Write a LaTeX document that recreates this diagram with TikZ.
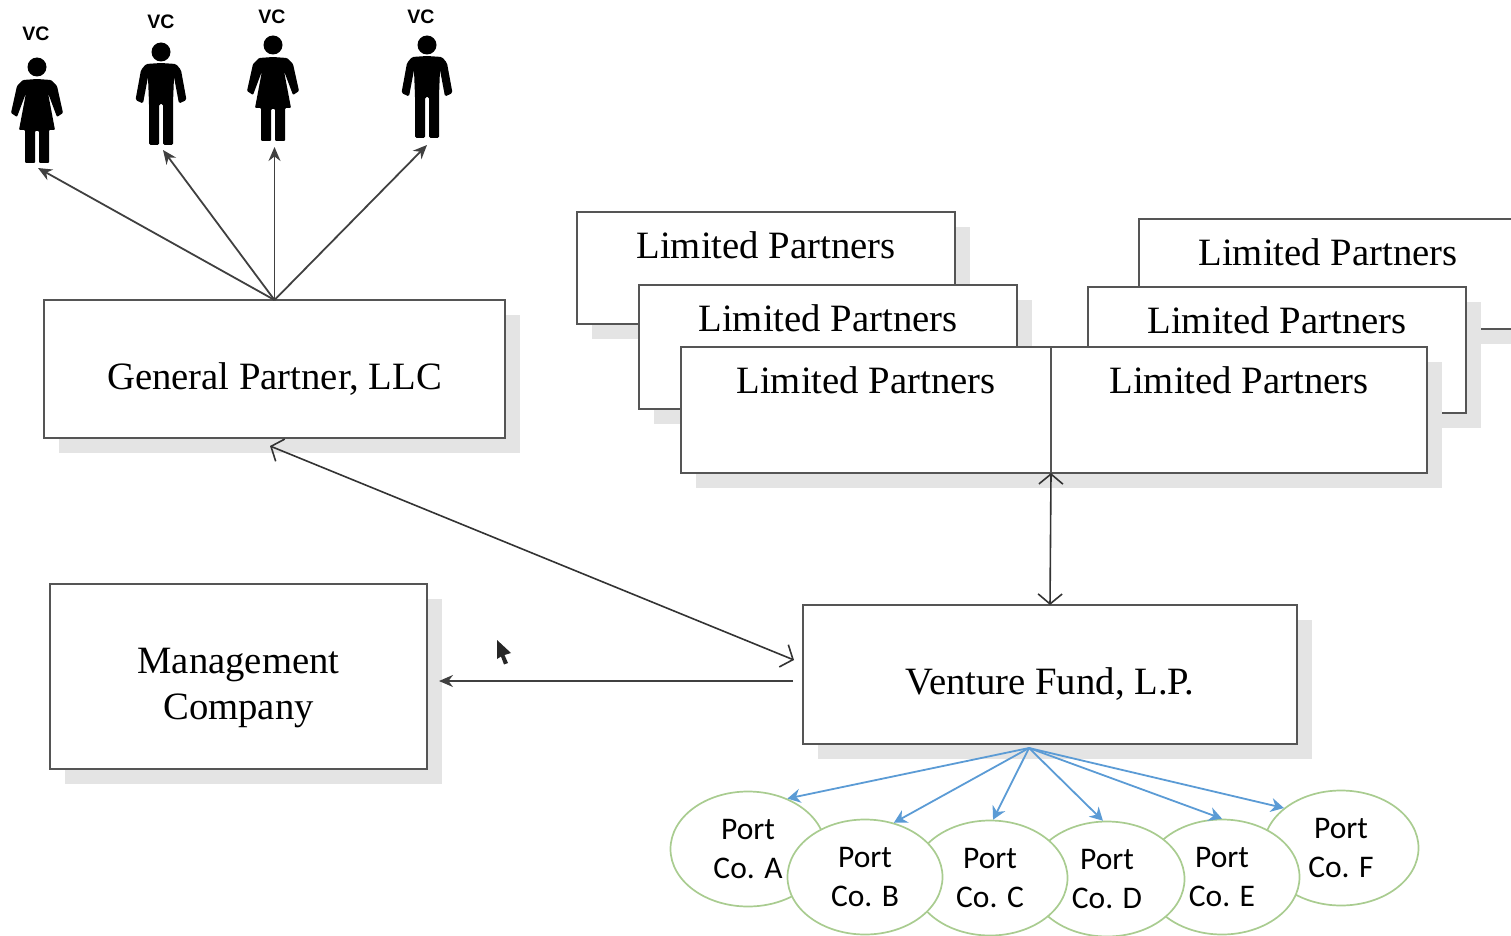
\documentclass[tikz,border=0pt]{standalone}
\usepackage{fontspec}
\setmainfont{Liberation Serif}
\newfontfamily\portfont{Carlito}
\newfontfamily\vcfont{Liberation Sans}
\usetikzlibrary{shapes, arrows.meta, positioning, shadows}

\definecolor{edgegray}{HTML}{555555}
\definecolor{shadowgray}{HTML}{E4E4E4}
\definecolor{portgreen}{HTML}{A9CC90}
\definecolor{fanblue}{HTML}{5B9BD5}

\begin{document}
\begin{tikzpicture}[
        x=1pt, y=-1pt,
        box/.style={draw=edgegray, fill=white, rectangle, line width=1.7pt, outer sep=0pt, align=center,
            font=\fontsize{38.7}{46}\selectfont,
            drop shadow={shadow xshift=15pt, shadow yshift=-15pt, opacity=1, fill=shadowgray}},
        mainbox/.style={box, text height=#1, text depth=8pt},
        lpbox/.style n args={2}{box, anchor=north west, inner ysep=0pt, text height=46.5pt, text depth=#2, minimum width=#1},
        port/.style={draw=portgreen, fill=white, ellipse, line width=1.7pt, inner sep=0pt, align=center,
            minimum width=155pt, minimum height=115pt, font=\portfont\fontsize{31.5}{39}\selectfont},
        vc/.style={font=\vcfont\bfseries\fontsize{19.5}{20}\selectfont, inner sep=0pt},
        arrow/.style={-{Stealth[length=14pt, width=12pt]}, line width=1.8pt, draw=black!75},
        biarrow/.style={{Straight Barb[length=10pt, width=24pt]}-{Straight Barb[length=10pt, width=24pt]}, line width=1.6pt, draw=black!80},
        fan/.style={-{Stealth[length=13pt, width=14pt]}, line width=1.8pt, draw=fanblue},
        man/.pic={
            \fill (0,0) circle (9.5pt);
            \fill[rounded corners=1.5pt] (0,11) -- (15,12) -- (20,18) -- (25.5,48) -- (18,51.5) -- (13,25) -- (12,51) -- (12,93)
                -- (2,93) -- (2,52) -- (-2,52) -- (-2,93) -- (-12,93) -- (-12,51) -- (-13,25) -- (-18,51.5) -- (-25.5,48) -- (-20,18) -- (-15,12) -- cycle;
        },
        woman/.pic={
            \fill (0,0) circle (9.5pt);
            \fill[rounded corners=1pt] (0,12) -- (14,13) -- (20,19) -- (26,46) -- (20,50) -- (11,26) -- (18,63) -- (12,63) -- (12,96)
                -- (2,96) -- (2,64) -- (-2,64) -- (-2,96) -- (-12,96) -- (-12,63) -- (-18,63) -- (-11,26) -- (-20,50) -- (-26,46) -- (-20,19) -- (-14,13) -- cycle;
        }
    ]
        \useasboundingbox (0,0) rectangle (1511,936);

        % VCs
        \pic at (37,67) {woman};
        \pic at (161,52) {man};
        \pic at (273,45) {woman};
        \pic at (427,45) {man};
        \node[vc] (vca) at (36,34) {VC};
        \node[vc] (vcb) at (161,22) {VC};
        \node[vc] (vcc) at (272,17) {VC};
        \node[vc] (vcd) at (421,17) {VC};
        \coordinate (feeta) at (38,168);
        \coordinate (feetb) at (163,150);
        \coordinate (feetc) at (274.5,147);
        \coordinate (feetd) at (427,145);

        % Main boxes
        \node[mainbox=48.4pt, minimum width=461pt, minimum height=138pt] (gp) at (274.5,369) {General Partner, LLC};
        \node[mainbox=94.4pt, minimum width=377pt, minimum height=185pt] (mgmt) at (238.5,676.5) {Management\\Company};
        \node[mainbox=48.4pt, minimum width=494pt, minimum height=139pt] (fund) at (1050,674.5) {Venture Fund, L.P.};

        % Limited partners
        \node[lpbox={378pt}{65.5pt}] (lpa) at (577,212) {Limited Partners};
        \node[lpbox={378pt}{77.5pt}, below right=73pt and 62pt of lpa.north west] (lpb) {Limited Partners};
        \node[lpbox={378pt}{63.5pt}] (lpd) at (1139,219) {Limited Partners};
        \node[lpbox={378pt}{79.5pt}] (lpe) at (1088,287) {Limited Partners};
        \node[lpbox={370pt}{79.5pt}] (lpc) at (681,347) {Limited Partners};
        \node[lpbox={376pt}{79.5pt}, right=0pt of lpc.north east, anchor=north west] (lpf) {Limited Partners};

        % Portfolio companies
        \node[port] (porta) at (748,849) {Port\\Co. A};
        \node[port] (portf) at (1341,848) {Port\\Co. F};
        \node[port] (porte) at (1222,877) {Port\\Co. E};
        \node[port] (portd) at (1107,879) {Port\\Co. D};
        \node[port] (portc) at (990,878) {Port\\Co. C};
        \node[port] (portb) at (865,877) {Port\\Co. B};

        % Arrows
        \draw[arrow] (gp.north) -- (feeta);
        \draw[arrow] (gp.north) -- (feetb);
        \draw[arrow] (gp.north) -- (feetc);
        \draw[arrow] (gp.north) -- (feetd);

        \coordinate (gpend) at (270,446);
        \coordinate (fundend) at (794,660);
        \coordinate (mgmtout) at (793,681);
        \coordinate (mgmtin) at (439,681);
        \coordinate (fanout) at (1029,748);
        \draw[biarrow] (gpend) -- (fundend);
        \draw[biarrow] (lpf.south west) -- (fund.north);
        \draw[arrow] (mgmtout) -- (mgmtin);

        \draw[fan] (fanout) -- (porta.52);
        \draw[fan] (fanout) -- (portb.62);
        \draw[fan] (fanout) -- (portc.87);
        \draw[fan] (fanout) -- (portd.94);
        \draw[fan] (fanout) -- (porte.90);
        \draw[fan] (fanout) -- (portf.145);

        % Cursor
        \fill[black!85] (497,640) -- (511,653) -- (504.5,655) -- (508,663) -- (504,664.5) -- (501,656.5) -- (497,659) -- cycle;

    \end{tikzpicture}
\end{document}
